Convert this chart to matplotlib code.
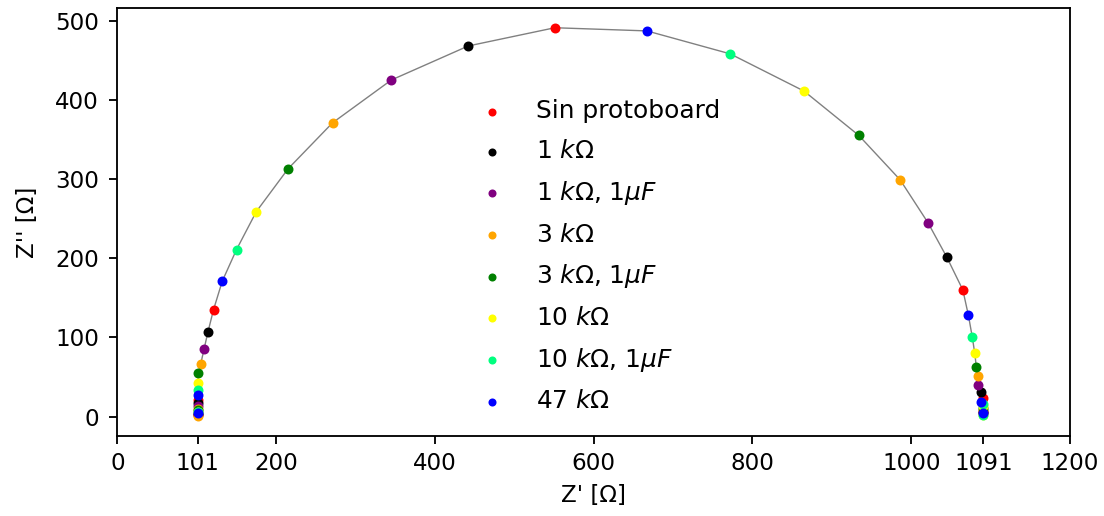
import numpy as np
import matplotlib.pyplot as plt

# series de la leyenda (cada una toma un punto de cada 8 del barrido)
etiquetas = ['Sin protoboard', r'1 $k\Omega$', r'1 $k\Omega$, 1$\mu F$', r'3 $k\Omega$',
             r'3 $k\Omega$, 1$\mu F$', r'10 $k\Omega$', r'10 $k\Omega$, 1$\mu F$', r'47 $k\Omega$']
colores = ['red', 'black', 'purple', 'orange', 'green', 'yellow', 'springgreen', 'blue']

# Barrido en frecuencia (de baja a alta): Z' y Z'' en ohm
z_real = [1091, 1091, 1091, 1091, 1091, 1091, 1091, 1090, 1090, 1090,
          1088, 1091, 1088, 1084, 1084, 1082, 1080, 1077, 1072, 1065,
          1045, 1021, 986, 934, 865, 772, 667, 551, 442, 345,
          271, 215, 175, 150, 132, 121, 114, 109, 105, 102,
          101.5, 101, 101, 101, 101, 101, 101, 101, 101, 101,
          101, 101, 101, 101, 101]
z_imag = [1.5, 2.5, 4.5, 5, 6, 7.5, 9, 11, 13, 15.5,
          19, 23, 31, 40, 51, 63, 80, 100, 128, 160,
          201, 245, 299, 355, 411, 458, 487, 491, 468, 425,
          371, 313, 259, 211, 171, 135, 107, 85, 67, 55,
          42, 34, 27, 21, 17, 13, 10, 8, 6.5, 5.5,
          4.5, 3.5, 3, 2, 0.5]
# el primer punto del barrido pertenece a la serie amarilla
primer_color = 5

ticks_x = [0, 101, 200, 400, 600, 800, 1000, 1091, 1200]

z_real = np.array(z_real)
z_imag = np.array(z_imag)
serie = (np.arange(len(z_real)) + primer_color) % len(colores)

dpi = 166
fig = plt.figure(figsize=(1104 / dpi, 516 / dpi), dpi=dpi)
ax = fig.add_axes([0.1064, 0.1556, 0.8628, 0.8283])

ax.plot(z_real, z_imag, color='gray', lw=0.6, zorder=1)
for i, (c, lab) in enumerate(zip(colores, etiquetas)):
    m = serie == i
    ax.scatter(z_real[m], z_imag[m], s=11, color=c, label=lab, zorder=2)

ax.set_xlim(0, 1200)
ax.set_xticks(ticks_x)
ax.tick_params(axis='y', pad=4.5)
ax.set_xlabel("Z' [Ω]")
ax.set_ylabel("Z'' [Ω]", labelpad=7)
ax.legend(loc='lower center', frameon=False, fontsize=10.8, markerscale=0.75,
          labelspacing=0.63)

fig.savefig('out.png', dpi=dpi)
